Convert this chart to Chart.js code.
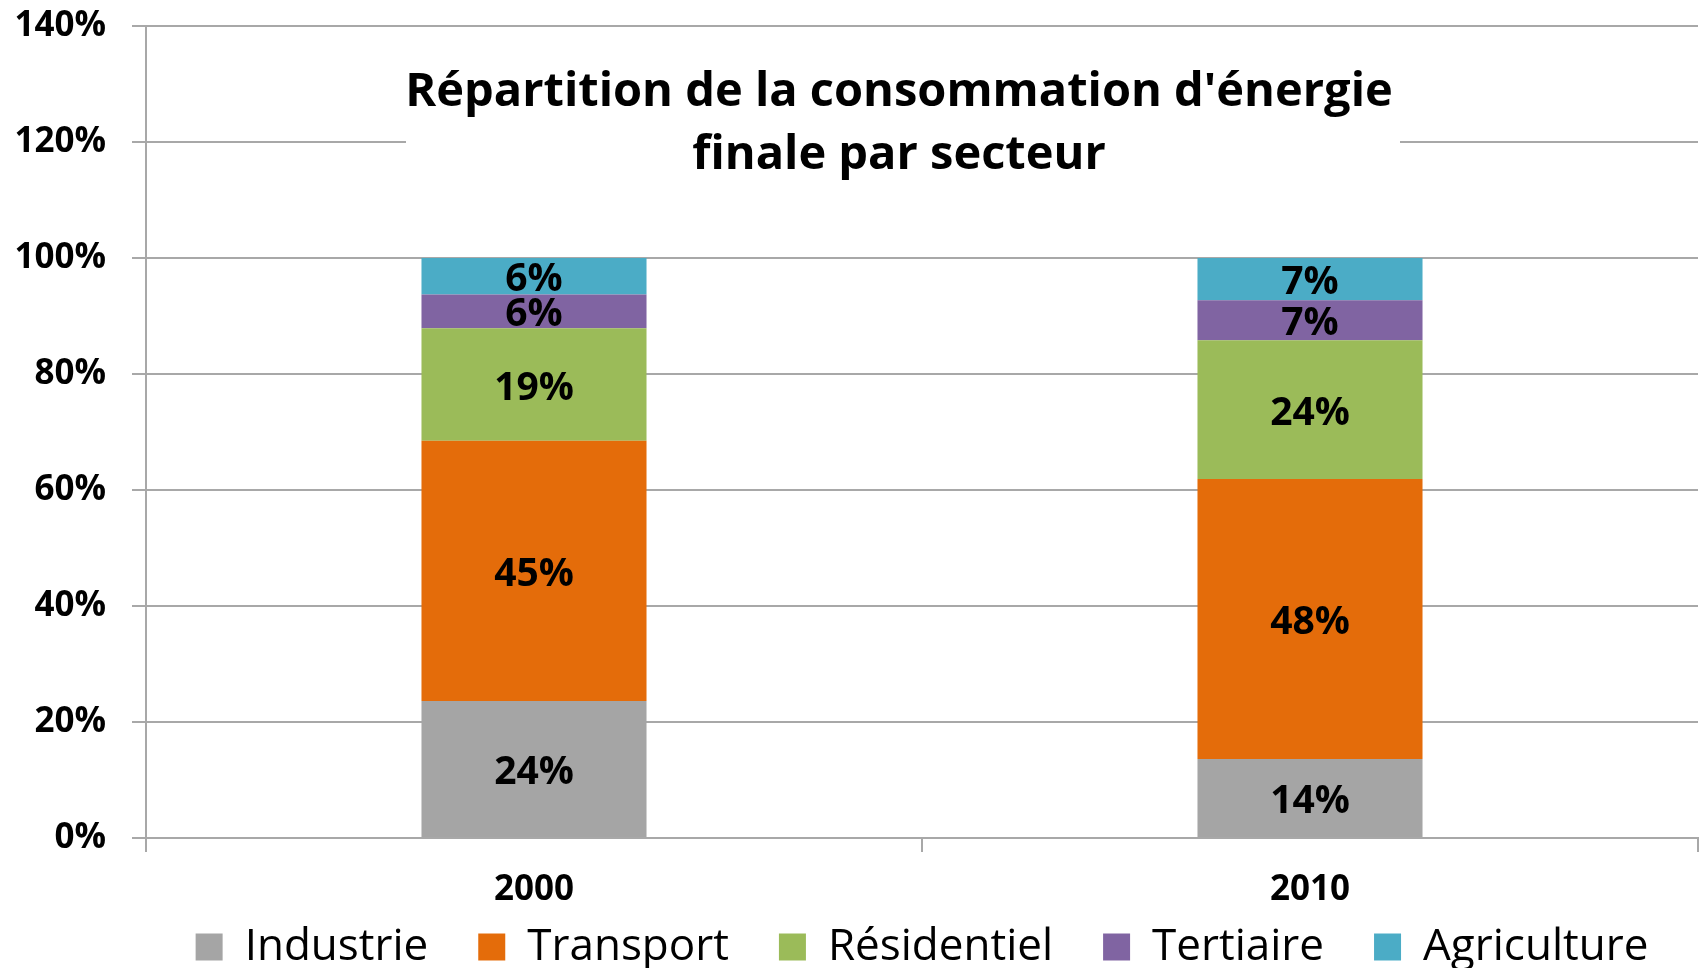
<!DOCTYPE html>
<html><head><meta charset="utf-8">
<script src="https://cdn.jsdelivr.net/npm/chart.js@4/dist/chart.umd.min.js"></script>
<style>html,body{margin:0;padding:0;background:#fff;overflow:hidden}#wrap{width:1702px;height:968px}</style>
</head><body><div id="wrap"><canvas id="c" width="1702" height="968"></canvas></div>
<script>
// ---- data ----
const categories = ['2000', '2010'];
const seriesNames = ['Industrie', 'Transport', 'Résidentiel', 'Tertiaire', 'Agriculture'];
const industrie   = [23.6, 13.6];
const transport   = [44.9, 48.3];
const residentiel = [19.4, 23.9];
const tertiaire   = [5.8, 6.9];
const agriculture = [6.3, 7.3];
const seriesColors = ['#A5A5A5', '#E46C0A', '#9BBB59', '#8064A2', '#4BACC6'];
const yMin = 0, yMax = 140, yStep = 20;
const titleLines = ["Répartition de la consommation d'énergie", "finale par secteur"];

const FONT = '"Open Sans", Lato, sans-serif';
const GRID = '#A8A8A8';
const LEGEND_FONT = 44;
const LEGEND_PAD = 50;

const seriesValues = [industrie, transport, residentiel, tertiaire, agriculture];
const datasets = seriesNames.map((name, i) => ({
  label: name,
  data: seriesValues[i],
  backgroundColor: seriesColors[i],
  borderWidth: 0,
  categoryPercentage: 1.0,
  barPercentage: 0.29
}));

const labelPlugin = {
  id: 'segLabels',
  afterDatasetsDraw(chart) {
    const ctx = chart.ctx;
    ctx.save();
    ctx.font = 'bold 39px ' + FONT;
    ctx.fillStyle = '#000';
    ctx.textAlign = 'center';
    ctx.textBaseline = 'middle';
    chart.data.datasets.forEach((ds, di) => {
      const meta = chart.getDatasetMeta(di);
      meta.data.forEach((bar, j) => {
        const p = bar.getProps(['x', 'y', 'base'], true);
        const v = ds.data[j];
        ctx.fillText(Math.round(v) + '%', p.x, (p.y + p.base) / 2 + 4);
      });
    });
    ctx.restore();
  }
};

const titlePlugin = {
  id: 'boxTitle',
  afterDraw(chart) {
    const ctx = chart.ctx;
    const ca = chart.chartArea;
    ctx.save();
    ctx.fillStyle = '#fff';
    ctx.fillRect(ca.left + 260, 50, 994, 130);
    ctx.fillStyle = '#000';
    ctx.font = 'bold 47px ' + FONT;
    ctx.textAlign = 'center';
    ctx.textBaseline = 'alphabetic';
    const cx = ca.left + 753;
    ctx.fillText(titleLines[0], cx, 106);
    ctx.fillText(titleLines[1], cx, 169);
    ctx.restore();
  }
};

const legendShift = {
  id: 'legendShift',
  afterLayout(chart) {
    const lg = chart.legend, ca = chart.chartArea;
    if (!lg) return;
    const d = (ca.left + ca.right) / 2 - (lg.left + lg.right) / 2;
    lg.left += d; lg.right += d;
    lg.top = 947 - LEGEND_PAD - LEGEND_FONT / 2;
    lg.bottom = chart.height;
    lg.height = lg.bottom - lg.top;
  }
};

new Chart(document.getElementById('c'), {
  type: 'bar',
  data: { labels: categories, datasets },
  plugins: [labelPlugin, titlePlugin, legendShift],
  options: {
    responsive: false,
    animation: false,
    devicePixelRatio: 1,
    layout: { padding: { top: 26, right: 4, left: 0, bottom: 0 } },
    scales: {
      x: {
        stacked: true,
        offset: true,
        afterFit(s) { s.height = 74; },
        grid: { display: true, drawOnChartArea: false, drawTicks: true, tickLength: 14, offset: true, color: GRID, lineWidth: 2 },
        border: { display: true, color: GRID, width: 2 },
        ticks: { color: '#000', padding: 17, autoSkip: false, font: { family: FONT, size: 35, weight: 'bold' } }
      },
      y: {
        stacked: true,
        min: yMin, max: yMax,
        afterFit(s) { s.width = 146; s.paddingTop = 0; s.paddingBottom = 0; },
        grid: { color: GRID, lineWidth: 2, tickLength: 14, drawTicks: true },
        border: { display: true, color: GRID, width: 2 },
        ticks: {
          stepSize: yStep, color: '#000', padding: 26,
          font: { family: FONT, size: 35, weight: 'bold' },
          callback: v => v + '%'
        }
      }
    },
    plugins: {
      title: { display: false },
      tooltip: { enabled: false },
      legend: {
        position: 'bottom',
        fullSize: true,
        maxHeight: 56,
        labels: {
          boxWidth: 27, boxHeight: 27, padding: LEGEND_PAD, color: '#000',
          font: { family: FONT, size: LEGEND_FONT, weight: 'normal' }
        }
      }
    }
  }
});
</script></body></html>
